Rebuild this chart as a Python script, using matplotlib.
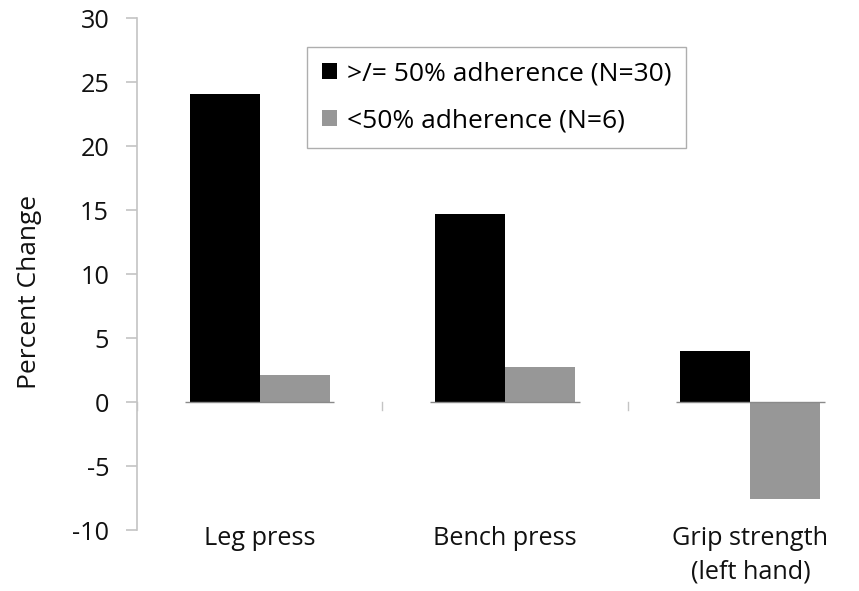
import matplotlib
matplotlib.use('Agg')
import matplotlib.pyplot as plt
import numpy as np

# ── Daten ────────────────────────────────────────────────────────────────────
categories = ['Leg press', 'Bench press', 'Grip strength\n(left hand)']
high_adherence = [24.1, 14.7, 4.0]     # >/= 50% adherence (N=30)
low_adherence = [2.1, 2.7, -7.6]       # <50% adherence (N=6)
series_labels = ['>/= 50% adherence (N=30)', '<50% adherence (N=6)']
y_ticks = [-10, -5, 0, 5, 10, 15, 20, 25, 30]

# ── Stil ─────────────────────────────────────────────────────────────────────
_FONT = ['Open Sans', 'DejaVu Sans']
_BLACK = '#000000'
_GREY = '#979797'
_AXIS = '#c4c4c4'
_TXT = '#111111'
_FS = 18.2
_FS_LEG = 19
_FS_YLAB = 19

W, H = 859, 591
fig = plt.figure(figsize=(W / 100, H / 100), dpi=100)
fig.patch.set_facecolor('white')

# Achse ragt rechts etwas über die Figur hinaus (wie im Original)
ax = fig.add_axes([137 / W, (H - 530) / H, 736 / W, 512 / H])
ax.set_facecolor('white')

x = np.arange(len(categories))
bw = 0.285
ax.bar(x - bw / 2, high_adherence, bw, color=_BLACK, label=series_labels[0], zorder=2)
ax.bar(x + bw / 2, low_adherence, bw, color=_GREY, label=series_labels[1], zorder=2)

# kurze Nulllinie unter jedem Balkenpaar
ax.hlines(np.zeros(len(x)), x - bw - 0.02, x + bw + 0.02,
          colors='#8a8a8a', linewidth=1.0, zorder=3)

ax.set_xlim(-0.5, len(categories) - 0.5)
ax.set_ylim(-10, 30)
ax.set_yticks(y_ticks)
ax.set_yticklabels([str(v) for v in y_ticks], fontsize=_FS, family=_FONT, color=_TXT)

# Kategorien-Labels unten, Stricheinteilung an den Grenzen auf y=0
ax.set_xticks(x)
ax.set_xticklabels(categories, fontsize=_FS, family=_FONT, color=_TXT,
                   linespacing=1.45)
ax.tick_params(axis='x', length=0, pad=-3)
for b in x[:-1] + 0.5:
    ax.plot([b, b], [0, -0.6], color=_AXIS, linewidth=1.0, zorder=1)
ax.plot([-0.5, -0.5], [0, -0.6], color=_AXIS, linewidth=1.0, zorder=1)

for side in ('top', 'right', 'bottom'):
    ax.spines[side].set_visible(False)
ax.spines['left'].set_color(_AXIS)
ax.spines['left'].set_linewidth(1.2)
ax.tick_params(axis='y', direction='out', length=8, width=1.2, color=_AXIS, pad=12)

ax.set_ylabel('Percent Change', fontsize=_FS_YLAB, family=_FONT, color=_TXT)
ax.yaxis.set_label_coords((42 - 137) / 736, (530 - 292) / 512)

leg = ax.legend(loc='upper left', bbox_to_anchor=((307 - 137) / 736, (530 - 47) / 512),
                prop={'family': _FONT, 'size': _FS_LEG}, frameon=True, fancybox=False,
                handlelength=0.57, handleheight=0.57, handletextpad=0.4,
                labelspacing=0.82, borderpad=0.55, borderaxespad=0)
leg.get_frame().set_edgecolor('#9a9a9a')
leg.get_frame().set_linewidth(1.0)

fig.savefig('out.png', dpi=100, facecolor='white')
